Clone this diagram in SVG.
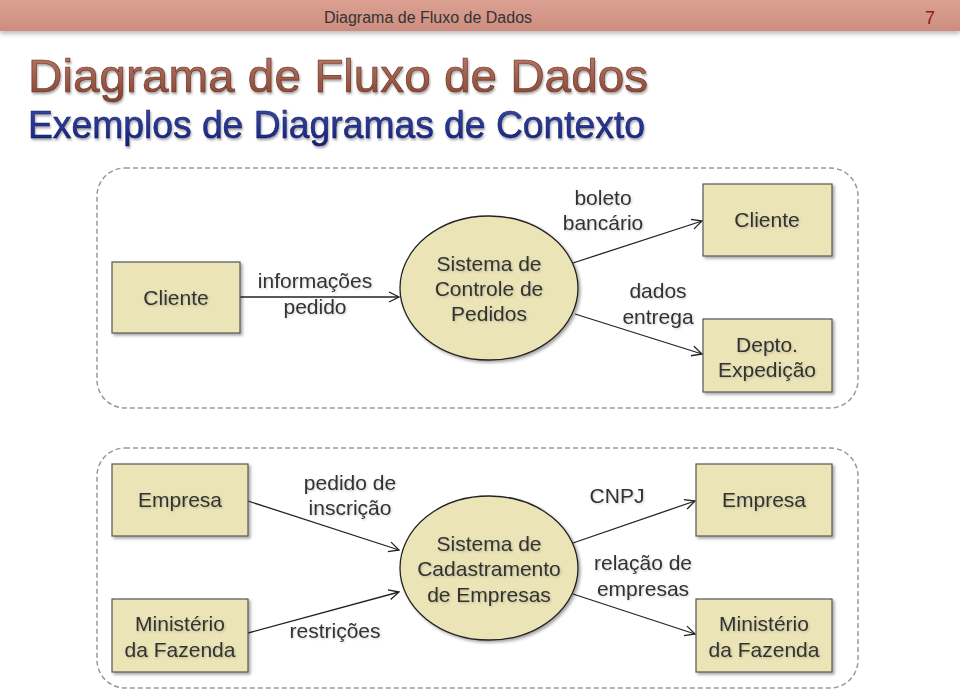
<svg xmlns="http://www.w3.org/2000/svg" width="960" height="694" viewBox="0 0 960 694">
<defs>
<style>
.t{font-family:"Liberation Sans",Arial,sans-serif;fill:#333;text-anchor:middle;font-size:21px;filter:url(#lsh)}
.box{fill:#ebe4b6;stroke:#555;stroke-width:1.2;filter:url(#sh)}
.ell{fill:#ebe4b6;stroke:#222;stroke-width:1.3;filter:url(#sh)}
.frame{fill:none;stroke:#999;stroke-width:1.5;stroke-dasharray:5 3}
.c{fill:none;stroke:#222;stroke-width:1.3;marker-end:url(#ah)}
</style>
<filter id="sh" x="-20%" y="-20%" width="140%" height="140%">
<feDropShadow dx="2" dy="2" stdDeviation="1.5" flood-color="#000" flood-opacity="0.35"/>
</filter>
<filter id="lsh" x="-10%" y="-30%" width="120%" height="160%">
<feDropShadow dx="1" dy="1" stdDeviation="0.8" flood-color="#000" flood-opacity="0.2"/>
</filter>
<filter id="bsh" x="-5%" y="-50%" width="110%" height="200%">
<feDropShadow dx="0" dy="3" stdDeviation="2" flood-color="#000" flood-opacity="0.25"/>
</filter>
<filter id="tsh" x="-5%" y="-20%" width="110%" height="150%">
<feDropShadow dx="1" dy="2" stdDeviation="1" flood-color="#000" flood-opacity="0.35"/>
</filter>
<linearGradient id="hb" x1="0" y1="0" x2="0" y2="1">
<stop offset="0" stop-color="#dca193"/>
<stop offset="1" stop-color="#cc8d7e"/>
</linearGradient>
<linearGradient id="tg" x1="0" y1="0" x2="0" y2="1">
<stop offset="0" stop-color="#bb7e6b"/>
<stop offset="1" stop-color="#84412f"/>
</linearGradient>
<linearGradient id="sg" x1="0" y1="0" x2="0" y2="1">
<stop offset="0" stop-color="#3a4aa8"/>
<stop offset="1" stop-color="#15207a"/>
</linearGradient>
<marker id="ah" viewBox="0 0 12 12" refX="11" refY="6" markerWidth="12" markerHeight="12" markerUnits="userSpaceOnUse" orient="auto">
<path d="M1,1 L11,6 L1,11" fill="none" stroke="#222" stroke-width="1.3"/>
</marker>
</defs>

<g id="header">
<rect x="0" y="0" width="960" height="31" fill="url(#hb)" filter="url(#bsh)"/>
<text x="428" y="23" font-family="Liberation Sans,Arial,sans-serif" font-size="16" fill="#333" text-anchor="middle">Diagrama de Fluxo de Dados</text>
<text x="930" y="24" font-family="Liberation Sans,Arial,sans-serif" font-size="18" fill="#8b1a1a" text-anchor="middle">7</text>
</g>

<g id="titles" filter="url(#tsh)">
<text x="28" y="92" font-family="Liberation Sans,Arial,sans-serif" font-size="46" fill="url(#tg)" stroke="#6a2e20" stroke-width="0.6" textLength="620" lengthAdjust="spacingAndGlyphs">Diagrama de Fluxo de Dados</text>
<text x="28" y="138" font-family="Liberation Sans,Arial,sans-serif" font-size="38" fill="url(#sg)" stroke="#101a60" stroke-width="0.5" textLength="617" lengthAdjust="spacingAndGlyphs">Exemplos de Diagramas de Contexto</text>
</g>

<rect class="frame" x="97" y="168" width="761" height="240" rx="28"/>
<rect class="frame" x="97" y="448" width="761" height="240" rx="28"/>

<g id="connectors">
<line class="c" x1="240" y1="297" x2="399" y2="297"/>
<line class="c" x1="573" y1="263" x2="702" y2="221"/>
<line class="c" x1="575" y1="314" x2="702" y2="354"/>
<line class="c" x1="248" y1="501" x2="399" y2="550"/>
<line class="c" x1="248" y1="633" x2="399" y2="592"/>
<line class="c" x1="573" y1="543" x2="695" y2="501"/>
<line class="c" x1="573" y1="594" x2="695" y2="634"/>
</g>

<g id="labels">
<text class="t" x="315" y="288">informações</text>
<text class="t" x="315" y="314">pedido</text>
<text class="t" x="603" y="205">boleto</text>
<text class="t" x="603" y="230">bancário</text>
<text class="t" x="658" y="298">dados</text>
<text class="t" x="658" y="324">entrega</text>
<text class="t" x="350" y="490">pedido de</text>
<text class="t" x="350" y="515">inscrição</text>
<text class="t" x="335" y="638">restrições</text>
<text class="t" x="617" y="503">CNPJ</text>
<text class="t" x="643" y="570">relação de</text>
<text class="t" x="643" y="596">empresas</text>
</g>

<g id="cliente1">
<rect class="box" x="112" y="262" width="128" height="71"/>
<text class="t" x="176" y="305">Cliente</text>
</g>
<g id="sistema1">
<ellipse class="ell" cx="489" cy="288" rx="89" ry="72"/>
<text class="t" x="489" y="271">Sistema de</text>
<text class="t" x="489" y="296">Controle de</text>
<text class="t" x="489" y="321">Pedidos</text>
</g>
<g id="cliente2">
<rect class="box" x="703" y="184" width="129" height="72"/>
<text class="t" x="767" y="227">Cliente</text>
</g>
<g id="depto">
<rect class="box" x="703" y="319" width="129" height="73"/>
<text class="t" x="767" y="352">Depto.</text>
<text class="t" x="767" y="377">Expedição</text>
</g>

<g id="empresa1">
<rect class="box" x="112" y="464" width="136" height="72"/>
<text class="t" x="180" y="507">Empresa</text>
</g>
<g id="ministerio1">
<rect class="box" x="112" y="599" width="136" height="73"/>
<text class="t" x="180" y="631">Ministério</text>
<text class="t" x="180" y="657">da Fazenda</text>
</g>
<g id="sistema2">
<ellipse class="ell" cx="489" cy="568" rx="89" ry="72"/>
<text class="t" x="489" y="551">Sistema de</text>
<text class="t" x="489" y="576">Cadastramento</text>
<text class="t" x="489" y="602">de Empresas</text>
</g>
<g id="empresa2">
<rect class="box" x="696" y="464" width="136" height="72"/>
<text class="t" x="764" y="507">Empresa</text>
</g>
<g id="ministerio2">
<rect class="box" x="696" y="599" width="136" height="73"/>
<text class="t" x="764" y="631">Ministério</text>
<text class="t" x="764" y="657">da Fazenda</text>
</g>
</svg>
